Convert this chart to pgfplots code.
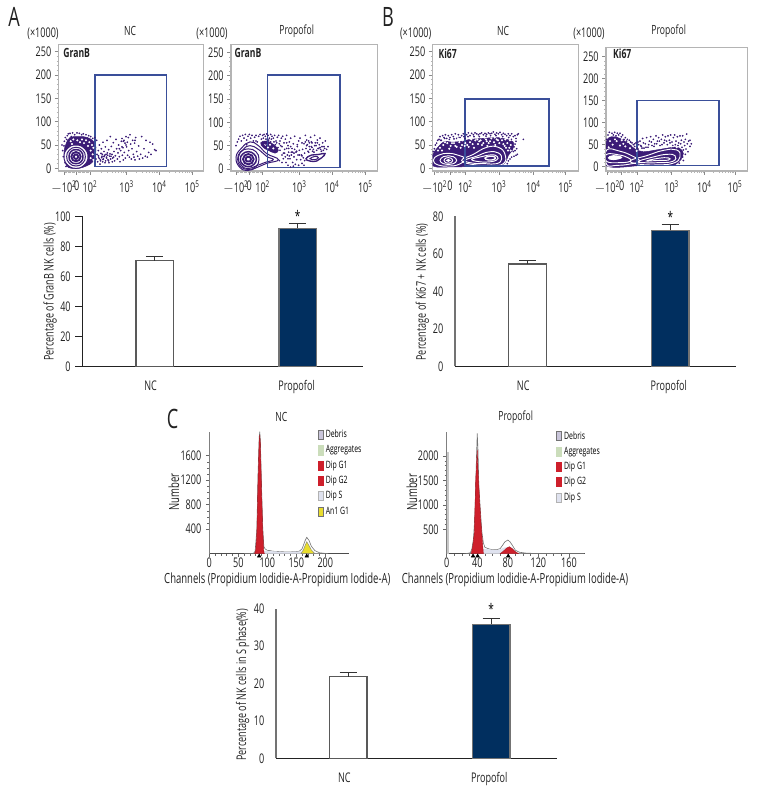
\documentclass[border=0pt]{standalone}
\usepackage{pgfplots}
\usepackage{fontspec}
\pgfplotsset{compat=1.18}
\setmainfont[FakeStretch=0.68]{Open Sans}
\definecolor{flowp}{HTML}{3B1C77}
\definecolor{gate}{HTML}{3A4F9A}
\definecolor{boxg}{HTML}{B4B4B4}
\definecolor{tickg}{HTML}{8A8A8A}
\definecolor{navybar}{HTML}{012F5F}
\definecolor{txt}{HTML}{222222}
\definecolor{gone}{HTML}{CE1F2B}
\definecolor{ans}{HTML}{E9DD2E}
\definecolor{dips}{HTML}{DFE2EF}
\definecolor{debr}{HTML}{C9C5DA}
\definecolor{aggr}{HTML}{CBDDBB}
\pgfplotsset{
  pbox/.code n args={4}{%
    \pgfmathsetmacro\pbl{#1*0.75}\pgfmathsetmacro\pbb{(804-#4)*0.75}%
    \pgfmathsetmacro\pbw{(#3-#1)*0.75}\pgfmathsetmacro\pbh{(#4-#2)*0.75}%
    \pgfplotsset{at={(\pbl pt,\pbb pt)},width=\pbw pt,height=\pbh pt}},
  common/.style={scale only axis,anchor=south west,
    /pgf/number format/assume math mode=true,
    /pgf/number format/1000 sep={},
    tick label style={font=\fontsize{10}{10}\selectfont,text=txt}},
  flow/.style={common,axis line style={boxg,line width=1pt},
    tick pos=left,tick align=outside,
    major tick length=3pt,minor tick length=1.6pt,
    major tick style={tickg,line width=.5pt},minor tick style={boxg,line width=.5pt},
    ytick={0,50,100,150,200,250},minor y tick num=4,
    xticklabels={$-$10\textsuperscript{2}\hspace{5.5pt},0,10\textsuperscript{2},10\textsuperscript{3},10\textsuperscript{4},10\textsuperscript{5}},
    xticklabel style={yshift=-1pt,inner xsep=0pt},yticklabel style={xshift=1pt},
    clip=true},
  dots/.style={only marks,mark=*,mark size=.42pt,flowp,mark options={draw=none,fill=flowp}},
  wdots/.style={only marks,mark=*,mark size=.55pt,white,mark options={draw=none,fill=white}},
  blob/.style={smooth cycle,tension=.6,fill=flowp,draw=flowp},
  ring/.style={smooth cycle,tension=.8,flowp,line width=.75pt},
  wring/.style={smooth cycle,tension=.8,white,line width=.7pt},
  gbox/.style={gate,line width=1.25pt},
  bars/.style={common,axis x line*=bottom,axis y line*=left,axis line style={-},
    x axis line style={txt,line width=.75pt},
    y axis line style={txt,line width=.75pt},
    tick align=outside,major tick length=5.2pt,
    y tick style={txt,line width=.6pt},x tick style={draw=none},
    xticklabel style={yshift=-2pt},clip=false,
    every axis y label/.append style={rotate=0,anchor=center,font=\fontsize{10}{10}\selectfont,text=txt}},
  barw/.style={ybar,bar width=28.1pt,bar shift=0pt,fill=white,draw=black!65,line width=1pt,
    error bars/.cd,y dir=plus,y explicit,
    error bar style={line width=.7pt,black!80},
    error mark options={rotate=90,mark size=6.5pt,line width=.7pt,black!80}},
  barn/.style={ybar,bar width=28.1pt,bar shift=0pt,fill=navybar,draw=black!55,line width=1pt,
    error bars/.cd,y dir=plus,y explicit,
    error bar style={line width=.7pt,black!80},
    error mark options={rotate=90,mark size=6.5pt,line width=.7pt,black!80}},
  hist/.style={common,axis x line*=bottom,axis y line*=left,axis line style={-},
    x axis line style={black!70,line width=.6pt},y axis line style={black!50,line width=.6pt},
    tick align=outside,major tick length=2.5pt,minor tick length=1.6pt,
    tick style={black!60,line width=.4pt},clip=false,
    xticklabel style={inner ysep=0.5pt},
    legend cell align=left,
    legend style={draw=none,fill=none,anchor=north west,inner sep=0pt,outer sep=0pt,
      font=\fontsize{7.6}{7.5}\selectfont,row sep=0.4pt,
      /tikz/every even column/.style={column sep=2pt}},
    every axis y label/.append style={anchor=center,font=\fontsize{10.5}{11}\selectfont,text=txt},
    every axis x label/.append style={anchor=center,inner ysep=0pt,font=\fontsize{10.5}{11}\selectfont,text=txt}},
  env/.style={draw=black!55,line width=.45pt,fill=white},
  sw/.style={legend image code/.code={\draw[##1] (0pt,-3.4pt) rectangle (3.8pt,3.4pt);}},
  mk/.style={only marks,mark=triangle*,mark size=1.5pt,black,mark options={draw=none,fill=black}},
}
\begin{document}
\begin{tikzpicture}
\useasboundingbox (0,0) rectangle (585pt,603pt);

%% ---------- A NC
\begin{axis}[flow,pbox={58.67}{44.33}{203.33}{171},xmin=176,xmax=610,ymin=-5.7,ymax=265.7,
  xtick={192,230,270,380,478,577},
  minor xtick={192,196,...,228,234,238,...,270,303,322,336,347,356,363,369,375,409.5,427,439.5,448.5,456,463,468.5,473.5,508,525,538,548,555,562,568,573}]
\addplot[blob] coordinates {(210,66)(240,68)(262,66)(280,58)(288,45)(285,28)(278,14)(262,6)(235,0)(205,2)(195,15)(192,35)(198,52)};
\addplot[wdots] coordinates {(212,58)(220,62)(232,60)(246,62)(258,60)(268,56)(276,50)(216,52)(240,56)(252,54)(264,48)(280,44)(272,38)(278,30)(272,22)(280,18)};
\addplot[dots] coordinates {
(186,50)(188,38)(190,25)(192,48)(193,58)(195,12)(196,66)(198,4)(200,62)(202,70)(205,74)(210,75)(214,68)(218,76)(224,72)(231,76)(238,75)(245,72)(250,74)(258,72)(266,70)(272,68)(278,64)(284,66)(290,60)
(288,20)(291,30)(293,14)(295,38)(296,24)(298,50)(300,9)(301,18)(303,32)(304,42)(306,26)(308,14)(309,56)(310,20)(312,36)(314,28)(316,46)(317,16)(319,24)(321,60)(322,33)(324,18)(326,40)(327,12)(329,26)(331,68)(332,20)(334,47)(336,30)(338,22)(340,55)(342,36)(344,16)(346,27)(348,62)(350,42)(352,20)(354,33)(356,50)(358,25)(360,14)(362,38)(364,58)(366,64)(367,28)(369,44)(370,18)(372,60)(373,34)(375,54)(376,22)(378,68)(380,46)(382,56)(383,28)(385,66)(386,38)(388,24)(390,72)(392,52)(394,20)(396,42)(398,60)(400,30)(402,24)(404,54)(405,18)(407,66)(410,36)(413,26)(416,48)(418,20)(422,30)(425,68)(428,22)(432,42)(436,26)(438,60)(442,24)(446,34)(450,56)(453,30)(458,52)(464,40)(468,38)(405,60)(378,50)(366,46)(358,42)(370,58)
(295,27)(298,21)(302,16)(305,23)(307,30)(309,19)(312,25)(315,12)(318,30)(320,22)(323,28)(326,16)(330,31)(333,26)(337,14)(341,24)};
\addplot[ring,fill=white] coordinates {(264,25)(253,43)(228,50)(203,43)(192,25)(203,7)(228,0)(253,7)};
\addplot[ring] coordinates {(256,25)(248,39)(228,45)(208,39)(200,25)(208,11)(228,5)(248,11)};
\addplot[ring,line width=1.1pt] coordinates {(249,25)(243,36)(228,40)(213,36)(207,25)(213,14)(228,10)(243,14)};
\addplot[ring,line width=1.4pt] coordinates {(242,25)(238,32)(228,35)(218,32)(214,25)(218,18)(228,15)(238,18)};
\addplot[ring,line width=1.4pt] coordinates {(235,25)(233,28)(228,30)(223,28)(221,25)(223,22)(228,20)(233,22)};
\addplot[gbox] coordinates {(284,3.6)(284,200)(500,200)(500,3.6)(284,3.6)};
\end{axis}

%% ---------- A Propofol
\begin{axis}[flow,pbox={231}{44.33}{377.67}{171},xmin=693,xmax=1133,ymin=-4.3,ymax=267,
  xtick={708,748,788,898,996,1096},
  minor xtick={708,712,...,744,752,756,...,788,821,840,854,865,874,881,887,893,927,945,957,966,974,981,986,991,1026,1044,1056,1066,1074,1081,1087,1092}]
\addplot[blob] coordinates {(782,56)(800,60)(825,50)(835,40)(825,34)(805,40)(790,46)};
\addplot[wdots] coordinates {(796,52)(810,52)(820,44)(804,46)};
\addplot[dots] coordinates {
(708,50)(712,58)(716,64)(720,70)(724,60)(728,72)(732,66)(736,74)(740,62)(744,70)(748,74)(752,66)(756,72)(760,60)(764,68)(768,72)(772,58)(776,70)(780,74)(784,64)(788,72)(792,74)(796,70)(800,75)(804,72)(808,66)(812,74)(816,70)(820,66)(824,72)(828,60)(832,68)(836,72)(840,60)(844,66)(848,70)(852,56)(856,64)(860,72)(864,50)(868,58)(872,66)(876,44)(880,54)(884,70)(888,36)(892,48)(896,60)(900,66)(904,30)(908,42)(912,54)(916,72)(920,62)(924,38)(928,48)(932,68)(936,56)(940,42)(944,72)(948,50)(952,62)(956,44)(960,66)(964,38)(968,56)(972,48)(976,60)(980,42)(984,48)(842,50)(850,34)(856,26)(860,44)(866,36)(870,22)(874,30)(878,14)(882,26)(886,10)(890,20)(894,30)(898,40)(902,20)(906,12)(910,24)(914,34)(918,44)(922,52)(926,36)(930,42)(934,48)(938,38)(942,36)(946,56)(950,40)(954,44)(958,52)(962,42)(966,48)(970,40)(974,44)(858,14)(864,8)(872,4)(880,6)(896,8)(912,8)(826,52)(834,46)(812,58)(796,54)(768,60)(740,52)(860,56)(872,48)(884,42)(892,52)(906,56)(916,58)(926,60)(934,58)(878,36)(864,22)(850,22)(846,14)(838,18)
(790,66)(798,64)(806,62)(814,64)(822,58)(830,56)(838,54)(846,48)(854,42)(862,30)(868,28)(874,36)(882,34)(890,38)(898,30)(906,28)(914,18)(920,50)(928,56)(936,46)(944,50)(952,56)(960,46)(840,40)(846,30)(854,34)(866,44)};
\addplot[ring,fill=white] coordinates {(708,25)(725,45)(750,58)(775,50)(800,33)(835,20)(800,12)(770,3)(745,-3)(720,3)};
\addplot[ring] coordinates {(715,25)(730,42)(750,50)(775,42)(800,27)(820,20)(795,14)(770,7)(745,1)(725,7)};
\addplot[ring] coordinates {(777,21)(768,37)(745,43)(722,37)(713,21)(722,5)(745,-1)(768,5)};
\addplot[ring,line width=1.1pt] coordinates {(769,21)(762,32)(745,37)(728,32)(721,21)(728,10)(745,5)(762,10)};
\addplot[ring,line width=1.4pt] coordinates {(761,21)(756,29)(745,32)(734,29)(729,21)(734,13)(745,10)(756,13)};
\addplot[ring,line width=1.4pt] coordinates {(753,21)(751,25)(745,26)(739,25)(737,21)(739,17)(745,16)(751,17)};
\addplot[ring,fill=white,line width=1pt] coordinates {(918,22)(930,17)(950,17)(965,24)(975,33)(955,31)(935,30)};
\addplot[ring] coordinates {(930,22)(945,20)(955,24)(945,27)};
\addplot[gbox] coordinates {(802,3)(802,201)(1019,201)(1019,3)(802,3)};
\end{axis}

%% ---------- B NC
\begin{axis}[flow,pbox={432.67}{44.33}{578.33}{171},xmin=128,xmax=565,ymin=-5.7,ymax=265.7,
  xtick={134,180,226,327,430,527},
  minor xtick={134,138,...,176,184,188,...,226,256,274,287,297,304,311,317,322,358,376,389,399,407,414,420,425,459,476,488,498,505,511,517,522}]
\addplot[blob] coordinates {(128,28)(140,42)(150,50)(165,58)(185,56)(215,58)(240,62)(280,64)(320,66)(350,62)(370,56)(368,40)(355,28)(345,12)(320,4)(250,4)(180,3)(130,5)};
\addplot[dots] coordinates {
(130,36)(133,42)(136,50)(140,54)(143,60)(147,62)(150,68)(154,60)(158,70)(162,66)(166,72)(170,64)(175,70)(180,66)(185,72)(190,68)(196,74)(200,64)(205,72)(210,66)(215,70)(220,74)(225,64)(230,72)(235,76)(240,70)(245,75)(250,72)(255,76)(260,74)(265,72)(270,74)(275,76)(280,72)(285,75)(290,73)(295,76)(300,74)(305,75)(310,78)(315,73)(320,76)(325,74)(330,77)(335,72)(340,75)(345,73)(350,70)(355,74)(360,70)(365,74)(370,68)(375,70)(378,64)(382,72)(385,74)(378,58)(375,52)(372,46)(370,36)(375,38)(380,42)(382,30)(378,28)(372,26)(365,24)(360,20)(355,16)(352,10)(400,62)
(152,60)(164,64)(178,62)(192,63)(206,66)(222,68)(234,68)(252,68)(268,68)(288,69)(302,70)(318,70)(338,68)(356,66)(364,62)};
\addplot[wdots] coordinates {
(232,50)(240,56)(248,52)(256,60)(264,52)(272,60)(280,54)(288,62)(296,54)(304,64)(312,56)(320,62)(328,54)(336,60)(344,48)(352,54)(358,44)(360,60)(182,48)(192,54)(200,46)(208,56)(216,50)(172,54)(160,50)(150,44)(218,60)(226,54)(258,66)(284,66)(306,68)(332,66)(346,62)(362,50)(240,64)(205,64)(165,56)
(236,46)(252,44)(268,58)(276,50)(292,48)(300,58)(316,50)(324,60)(340,52)(348,44)(186,54)(196,48)(212,44)(224,48)(178,42)(156,38)(144,38)(354,38)(362,38)(244,62)(262,62)(314,66)(290,58)};
\addplot[wring] coordinates {(130,17)(145,28)(175,32)(205,28)(225,20)(205,8)(175,5)(145,7)};
\addplot[wring] coordinates {(150,17)(160,25)(175,27)(190,25)(200,17)(190,10)(175,8)(160,10)};
\addplot[wring] coordinates {(162,17)(168,22)(175,23)(182,22)(188,17)(182,12)(175,11)(168,12)};
\addplot[wring,fill=white] coordinates {(170,17)(175,19)(180,17)(175,15)};
\addplot[wring] coordinates {(215,17)(250,30)(290,45)(325,45)(345,30)(340,10)(300,6)(250,8)};
\addplot[wring] coordinates {(225,17)(260,26)(295,35)(325,33)(335,20)(320,10)(285,10)(250,11)};
\addplot[wring] coordinates {(245,19)(275,25)(305,29)(322,25)(320,18)(300,14)(270,14)};
\addplot[wring,line width=1pt] coordinates {(285,22)(300,26)(315,24)(312,19)(295,18)};
\addplot[gbox] coordinates {(224,5.7)(224,148)(477,148)(477,5.7)(224,5.7)};
\end{axis}

%% ---------- B Propofol
\begin{axis}[flow,pbox={606}{47.33}{747.33}{171},xmin=648,xmax=1072,ymin=-9.8,ymax=271,
  xtick={652,695,741,845,943,1035},
  minor xtick={652,656,...,692,699,703,...,741,772,791,804,814,822,829,835,840,874,892,904,914,921,928,934,939,971,987,998,1007,1014,1021,1026,1031}]
\addplot[blob] coordinates {(649,55)(665,68)(690,64)(715,52)(735,40)(760,34)(800,38)(850,44)(868,42)(880,30)(865,10)(840,3)(760,3)(650,2)};
\addplot[dots] coordinates {
(650,62)(654,72)(658,78)(662,66)(666,76)(670,72)(674,78)(678,70)(682,76)(686,72)(690,76)(694,68)(698,72)(702,62)(706,66)(710,58)(714,52)(718,60)(722,48)(726,54)(730,50)(734,46)(738,54)(742,42)(746,50)(750,58)(754,46)(758,64)(762,42)(766,52)(770,66)(774,44)(778,58)(782,68)(786,48)(790,62)(794,52)(798,70)(802,58)(806,66)(810,48)(814,62)(818,72)(822,54)(826,68)(830,58)(834,70)(838,60)(842,72)(846,56)(850,66)(854,72)(858,58)(862,68)(866,54)(870,70)(874,60)(878,70)(882,56)(886,62)(890,74)(884,48)(888,40)(892,52)(896,58)(880,38)(900,60)(894,34)(886,28)(878,22)(872,16)(880,14)(868,8)(900,46)(904,52)
(744,56)(752,48)(760,54)(768,44)(776,50)(784,56)(792,46)(800,52)(808,58)(816,50)(824,60)(832,50)(840,54)(848,48)(856,50)(864,48)(872,52)(876,44)(744,40)(756,42)(712,62)(722,56)(734,52)};
\addplot[wdots] coordinates {(740,36)(760,37)(775,38)(790,41)(800,44)(815,44)(830,45)(845,46)(860,44)(660,58)(680,58)(700,52)(675,62)(695,60)(668,50)(690,48)(706,46)(656,44)(720,42)};
\addplot[wring,fill=white] coordinates {(655,20)(670,25)(695,21)(670,16)};
\addplot[wring] coordinates {(650,38)(690,35)(725,25)(748,13)(720,6)(680,3)(650,5)};
\addplot[wring] coordinates {(650,28)(685,27)(715,20)(720,12)(685,9)(650,12)};
\addplot[wring] coordinates {(722,14)(770,25)(820,37)(860,38)(870,22)(850,8)(800,4)(745,6)};
\addplot[wring] coordinates {(745,12)(790,22)(830,28)(855,25)(848,12)(800,9)(765,9)};
\addplot[wring] coordinates {(770,13)(805,19)(835,20)(835,15)(800,14)};
\addplot[gbox] coordinates {(741,3)(741,150)(987,150)(987,3)(741,3)};
\end{axis}

%% ---------- A bars
\begin{axis}[bars,pbox={82.3}{216.3}{362.7}{366.3},xmin=-.506,xmax=1.455,ymin=0,ymax=100,
  xtick={-.028,.993},xticklabels={NC,Propofol},ytick={0,20,40,60,80,100},
  ylabel={Percentage of GranB NK cells (\%)},
  every axis y label/.append style={at={(axis description cs:-.115,.495)}}]
\addplot[barw] coordinates {(0,70.5) +- (0,2.4)};
\addplot[barn] coordinates {(1,92) +- (0,3.1)};
\node[font=\fontsize{11}{11}\selectfont] at (axis cs:1,100) {*};
\end{axis}

%% ---------- B bars
\begin{axis}[bars,pbox={455}{216.3}{735.7}{366.3},xmin=-.508,xmax=1.458,ymin=0,ymax=80,
  xtick={-.03,.989},xticklabels={NC,Propofol},ytick={0,20,40,60,80},
  y tick style={draw=none},
  extra y ticks={0,26.67,53.33,80},extra y tick labels={},
  extra y tick style={tick style={draw=txt,line width=.6pt}},
  y axis line style={black!55,line width=1.4pt},
  ylabel={Percentage of Ki67 + NK cells (\%)},
  every axis y label/.append style={at={(axis description cs:-.1165,.495)}}]
\addplot[barw] coordinates {(0,54.6) +- (0,1.8)};
\addplot[barn] coordinates {(1,72.5) +- (0,3.1)};
\node[font=\fontsize{11}{11}\selectfont] at (axis cs:1,79.7) {*};
\end{axis}

%% ---------- C bars
\begin{axis}[bars,pbox={276}{608.7}{556.7}{758.3},xmin=-.506,xmax=1.458,ymin=0,ymax=40,
  xtick={-.028,.986},xticklabels={NC,Propofol},ytick={0,10,20,30,40},
  y tick style={draw=none},
  extra y ticks={0,13.33,26.67,40},extra y tick labels={},
  extra y tick style={tick style={draw=txt,line width=.6pt}},
  y axis line style={black!55,line width=1.4pt},
  ylabel={Percentage of NK cells in S phase(\%)},
  every axis y label/.append style={at={(axis description cs:-.1186,.49)}}]
\addplot[barw] coordinates {(0,21.8) +- (0,1.2)};
\addplot[barn] coordinates {(1,35.8) +- (0,1.5)};
\node[font=\fontsize{11}{11}\selectfont] at (axis cs:1,40) {*};
\end{axis}

%% ---------- C NC histogram
\begin{axis}[hist,pbox={209.3}{431.7}{349}{553.7},xmin=0,xmax=240.8,ymin=0,ymax=1991,
  xtick={0,50,100,150,200},ytick={400,800,1200,1600},minor x tick num=4,minor y tick num=3,
  xlabel={Channels (Propidium Iodidie-A-Propidium Iodide-A)},ylabel={Number},
  every axis x label/.append style={at={(axis description cs:.487,-.218)}},
  every axis y label/.append style={at={(axis description cs:-.253,.506)}},
  legend style={at={(.775,1.035)}}]
\addplot[env,forget plot] coordinates {(60,0)(76,5)(79,40)(82,400)(84,1300)(86,1900)(87,1990)(88,1850)(90,1100)(92,450)(94,120)(96,80)(100,55)(105,50)(110,40)(120,35)(130,30)(140,30)(150,35)(155,40)(160,80)(165,210)(168,267)(172,215)(176,120)(182,50)(190,15)(205,0)} -- cycle;
\addplot[fill=dips,draw=none,forget plot] coordinates {(92,0)(92,50)(100,45)(130,28)(155,35)(160,40)(160,0)} -- cycle;
\addplot[fill=gone,draw=gone!80!black,line width=.3pt,forget plot] coordinates {(78,0)(80,60)(82,350)(84,1200)(86,1850)(87,1937)(88,1800)(90,1050)(92,400)(94,30)(95,0)} -- cycle;
\addplot[fill=ans,draw=black!50,line width=.3pt,forget plot] coordinates {(158,0)(162,60)(165,130)(168,196)(172,130)(176,60)(182,0)} -- cycle;
\addplot[mk,forget plot] coordinates {(86,-38)(168,-38)};
\addlegendimage{sw,draw=black!55,fill=debr}\addlegendentry{Debris}
\addlegendimage{sw,draw=aggr,fill=aggr}\addlegendentry{Aggregates}
\addlegendimage{sw,draw=gone,fill=gone}\addlegendentry{Dip G1}
\addlegendimage{sw,draw=gone,fill=gone}\addlegendentry{Dip G2}
\addlegendimage{sw,draw=black!30,fill=dips}\addlegendentry{Dip S}
\addlegendimage{sw,draw=black!55,fill=ans}\addlegendentry{An1 G1}
\end{axis}

%% ---------- C Propofol histogram
\begin{axis}[hist,pbox={446.7}{432.3}{585}{553.7},xmin=0,xmax=181,ymin=0,ymax=2485,
  xtick={0,40,80,120,160},ytick={500,1000,1500,2000},minor x tick num=3,minor y tick num=4,
  xlabel={Channels (Propidium Iodidie-A-Propidium Iodide-A)},ylabel={Number},
  every axis x label/.append style={at={(axis description cs:.494,-.218)}},
  every axis y label/.append style={at={(axis description cs:-.251,.506)}},
  legend style={at={(.79,1.03)}}]
\addplot[fill=black!22,draw=none,forget plot] coordinates {(0,0)(0,2090)(2.6,2090)(2.6,0)} -- cycle;
\addplot[env,forget plot] coordinates {(25,0)(31,20)(33,100)(35,300)(37,800)(38,1400)(39,2000)(40,2464)(41,2100)(42,1400)(44,900)(46,450)(48,220)(50,130)(55,100)(60,80)(65,80)(70,105)(73,170)(76,240)(80,280)(83,240)(86,170)(90,70)(95,30)(105,10)(120,5)(180,0)} -- cycle;
\addplot[fill=dips,draw=none,forget plot] coordinates {(47,0)(47,100)(55,90)(65,70)(70,90)(76,130)(85,130)(90,50)(92,0)} -- cycle;
\addplot[fill=gone,draw=gone!80!black,line width=.3pt,forget plot] coordinates {(32,0)(34,150)(36,400)(38,1500)(40,2123)(41,1700)(43,1100)(45,600)(47,200)(48,0)} -- cycle;
\addplot[fill=gone,draw=gone!80!black,line width=.3pt,forget plot] coordinates {(70,0)(74,50)(78,110)(82,143)(86,100)(90,40)(94,0)} -- cycle;
\addplot[mk,forget plot] coordinates {(34.5,-48)(40.5,-48)(80.5,-48)};
\addlegendimage{sw,draw=black!55,fill=debr}\addlegendentry{Debris}
\addlegendimage{sw,draw=aggr,fill=aggr}\addlegendentry{Aggregates}
\addlegendimage{sw,draw=gone,fill=gone}\addlegendentry{Dip G1}
\addlegendimage{sw,draw=gone,fill=gone}\addlegendentry{Dip G2}
\addlegendimage{sw,draw=black!30,fill=dips}\addlegendentry{Dip S}
\end{axis}

%% ---------- texts
\begin{scope}[x=0.75pt,y=-0.75pt,yshift=603pt,every node/.style={text=txt,inner sep=0pt}]
\node[font=\fontsize{20}{20}\selectfont] at (14,17) {A};
\node[font=\fontsize{20}{20}\selectfont] at (388,17) {B};
\node[font=\fontsize{20}{20}\selectfont] at (172.7,419) {C};
\foreach \x/\t in {130/NC,296.7/Propofol,503/NC,668.7/Propofol}
  \node[font=\fontsize{9.5}{10}\selectfont] at (\x,30.7) {\t};
\foreach \x in {43,212,415.7,589}
  \node[font=\fontsize{10}{10}\selectfont] at (\x,34) {(×1000)};
\node[font=\fontsize{9.5}{10}\selectfont\bfseries] at (76.7,53.3) {GranB};
\node[font=\fontsize{9.5}{10}\selectfont\bfseries] at (248,53.3) {GranB};
\node[font=\fontsize{9.5}{10}\selectfont\bfseries] at (447.7,53.3) {Ki67};
\node[font=\fontsize{9.5}{10}\selectfont\bfseries] at (622.3,53.3) {Ki67};
\node[font=\fontsize{9.5}{10}\selectfont] at (281.3,416.7) {NC};
\node[font=\fontsize{9.5}{10}\selectfont] at (515.7,416.7) {Propofol};
\end{scope}
\end{tikzpicture}
\end{document}
